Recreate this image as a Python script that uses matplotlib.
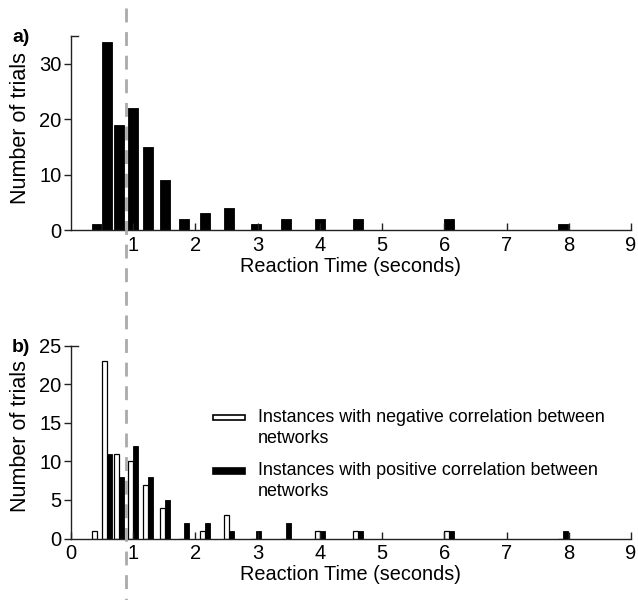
import matplotlib
matplotlib.use("Agg")
import matplotlib.pyplot as plt
from matplotlib.patches import Rectangle
from matplotlib.lines import Line2D

plt.rcParams['font.family'] = ['Liberation Sans', 'DejaVu Sans']

# Bin centres (seconds)
bin_centers = [0.41, 0.58, 0.77, 1.00, 1.24, 1.51, 1.82, 2.15, 2.54, 2.98, 3.46, 4.00, 4.62, 6.07, 7.90]
# Panel a: all trials
all_trials = [1, 34, 19, 22, 15, 9, 2, 3, 4, 1, 2, 2, 2, 2, 1]
# Panel b: split by correlation sign
negative = [1, 23, 11, 10, 7, 4, 0, 1, 3, 0, 0, 1, 1, 1, 0]
positive = [0, 11, 8, 12, 8, 5, 2, 2, 1, 1, 2, 1, 1, 1, 1]
dash_x = 0.88
xticks_top = [1, 2, 3, 4, 5, 6, 7, 8, 9]
xticks_bot = [0, 1, 2, 3, 4, 5, 6, 7, 8, 9]
yticks_top = [0, 10, 20, 30]
yticks_bot = [0, 5, 10, 15, 20, 25]
leg_labels = ["Instances with negative correlation between\nnetworks",
              "Instances with positive correlation between\nnetworks"]

W, H = 638, 600
fig = plt.figure(figsize=(W/100, H/100), dpi=100)
ax1 = fig.add_axes([71/W, 1-230/H, 560/W, 194/H])
ax2 = fig.add_axes([71/W, 1-538.5/H, 560/W, 192.8/H])

bw = 0.16
ax1.bar(bin_centers, all_trials, width=bw, color='black', edgecolor='black', linewidth=0.6)
ax2.bar([c - bw/4 for c in bin_centers], negative, width=bw/2, color='white',
        edgecolor='black', linewidth=0.9)
ax2.bar([c + bw/4 for c in bin_centers], positive, width=bw/2, color='black',
        edgecolor='black', linewidth=0.6)

for ax, xt, yt, ytop in [(ax1, xticks_top, yticks_top, 35), (ax2, xticks_bot, yticks_bot, 25)]:
    ax.set_xlim(0, 9)
    ax.set_ylim(0, ytop)
    ax.set_xticks(xt)
    ax.set_yticks(yt)
    for s in ['top', 'right']:
        ax.spines[s].set_visible(False)
    for s in ['left', 'bottom']:
        ax.spines[s].set_linewidth(1.0)
        ax.spines[s].set_color('#222222')
    ax.tick_params(axis='x', direction='in', length=5, width=1, labelsize=14.5, pad=4, color='#222222')
    ax.tick_params(axis='y', direction='out', length=5, width=1, labelsize=14.5, pad=2, color='#222222')
    ax.set_xlabel("Reaction Time (seconds)", fontsize=14.3, labelpad=1.5)
    ax.set_ylabel("Number of trials", fontsize=15.5)
    # small inward cap at top of y-axis
    ax.plot([0, 0.12], [ytop, ytop], color='#222222', lw=1, clip_on=False)

ax1.yaxis.set_label_coords(-0.071, 0.528)
ax2.yaxis.set_label_coords(-0.071, 0.532)

# legend drawn manually in axes coords
for i, (fc, lab) in enumerate(zip(['white', 'black'], leg_labels)):
    yc = [0.628, 0.35][i]
    ax2.add_patch(Rectangle((0.254, yc - 0.014), 0.056, 0.028, transform=ax2.transAxes,
                            facecolor=fc, edgecolor='black', lw=1.2, clip_on=False))
    ax2.text(0.334, yc + 0.045, lab, transform=ax2.transAxes, fontsize=12.9,
             va='top', ha='left', linespacing=1.3)

fig.text(12/W, 1-37/H, "a)", fontsize=14, fontweight='bold', va='center', ha='left')
fig.text(12/W, 1-347/H, "b)", fontsize=14, fontweight='bold', va='center', ha='left')

# dashed vertical reference line across the whole figure
xd = ax1.transData.transform((dash_x, 0))[0]
xf = fig.transFigure.inverted().transform((xd, 0))[0]
fig.add_artist(Line2D([xf, xf], [1-8/H, 0], transform=fig.transFigure,
                      color='#aaaaaa', lw=2, linestyle=(0, (5, 3.5))))

fig.savefig("out.png", dpi=100)
